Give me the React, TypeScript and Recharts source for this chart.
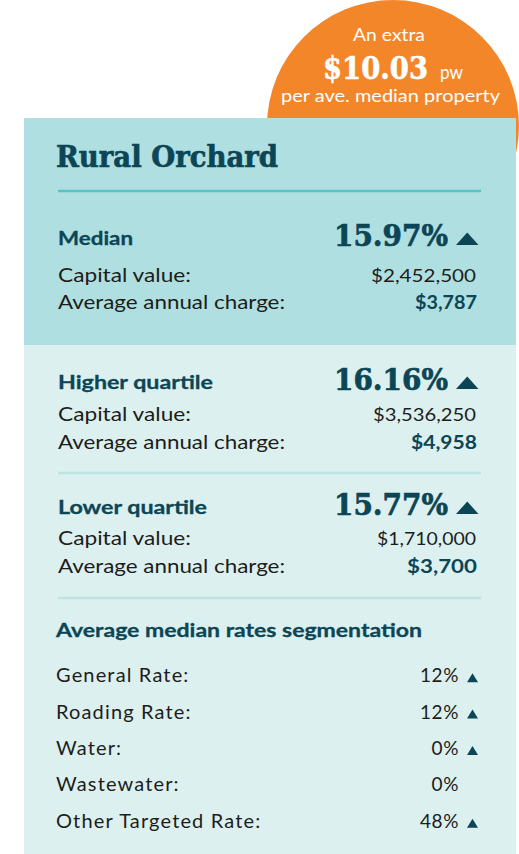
import React from 'react';
import { BarChart, Bar, XAxis, YAxis, Customized } from 'recharts';

// ---- data ----
const cardTitle = 'Rural Orchard';
const bubbleLines = ['An extra', '$10.03', 'pw', 'per ave. median property'];
const sectionTitles = ['Median', 'Higher quartile', 'Lower quartile'];
const sectionChanges = ['15.97%', '16.16%', '15.77%'];
const capitalValues = ['$2,452,500', '$3,536,250', '$1,710,000'];
const annualCharges = ['$3,787', '$4,958', '$3,700'];
const rowLabels = ['Capital value:', 'Average annual charge:'];
const segTitle = 'Average median rates segmentation';
const segNames = ['General Rate:', 'Roading Rate:', 'Water:', 'Wastewater:', 'Other Targeted Rate:'];
const segValues = [12, 12, 0, 0, 48];
const segUp = [true, true, true, false, true];

const segData = segNames.map((name, i) => ({ name, value: segValues[i] }));

// ---- styles ----
const TEAL = '#0c4656';
const INK = '#1d1d1b';
const SANS = 'Lato, "Open Sans", sans-serif';
const SERIF = '"DejaVu Serif", serif';

const LeftTick = (props: any) => {
  const { y, payload } = props;
  return (
    <text x={56} y={y + 7} fontFamily={SANS} fontSize={20} letterSpacing={1.15} fill={INK} textAnchor="start">
      {payload.value}
    </text>
  );
};

const RightTick = (props: any) => {
  const { y, index } = props;
  const v = segValues[index];
  const up = segUp[index];
  const base = y + 7;
  return (
    <g>
      <text x={459} y={base} fontFamily={SANS} fontSize={19} letterSpacing={0.6} fill={INK} textAnchor="end">
        {`${v}%`}
      </text>
      {up && <polygon points={`467,${base} 478,${base} 472.5,${base - 9}`} fill={TEAL} />}
    </g>
  );
};

const sectionY = [
  { title: 245, cap: 282, charge: 309 },
  { title: 389, cap: 421, charge: 449 },
  { title: 514, cap: 545, charge: 573 },
];
const titleWidths = [75, 155, 149];
const capWidths = [105, 103, 99];
const chargeWidths = [62, 66, 70];

const Overlay = () => (
  <g>
    {/* bubble text */}
    <text x={389} y={41} fontFamily={SANS} fontSize={18} fill="#fff" textAnchor="middle" textLength={72} lengthAdjust="spacingAndGlyphs">
      {bubbleLines[0]}
    </text>
    <text x={323} y={79} fontFamily={SERIF} fontWeight={700} fontSize={31} fill="#fff" stroke="#fff" strokeWidth={0.6} textLength={105} lengthAdjust="spacingAndGlyphs">
      {bubbleLines[1]}
    </text>
    <text x={440} y={79} fontFamily={SANS} fontSize={19} fill="#fff" textLength={23} lengthAdjust="spacingAndGlyphs">
      {bubbleLines[2]}
    </text>
    <text x={281} y={102} fontFamily={SANS} fontSize={18} fill="#fff" textLength={219} lengthAdjust="spacingAndGlyphs">
      {bubbleLines[3]}
    </text>

    {/* title */}
    <text x={56} y={167} fontFamily={SERIF} fontWeight={700} fontSize={30} fill={TEAL} stroke={TEAL} strokeWidth={0.7} textLength={222} lengthAdjust="spacingAndGlyphs">
      {cardTitle}
    </text>
    <line x1={58} x2={481} y1={191} y2={191} stroke="#55c4c7" strokeWidth={2.5} />

    {sectionTitles.map((t, i) => {
      const p = sectionY[i];
      return (
        <g key={t}>
          <text x={58} y={p.title} fontFamily={SANS} fontWeight={700} fontSize={19} fill={TEAL} stroke={TEAL} strokeWidth={0.3} textLength={titleWidths[i]} lengthAdjust="spacingAndGlyphs">
            {t}
          </text>
          <text x={334} y={p.title + 1} fontFamily={SERIF} fontWeight={700} fontSize={30} fill={TEAL} stroke={TEAL} strokeWidth={0.7} textLength={114} lengthAdjust="spacingAndGlyphs">
            {sectionChanges[i]}
          </text>
          <polygon points={`456,${p.title} 478.5,${p.title} 467.25,${p.title - 12.5}`} fill={TEAL} />
          <text x={58} y={p.cap} fontFamily={SANS} fontSize={20} fill={INK} textLength={133} lengthAdjust="spacingAndGlyphs">
            {rowLabels[0]}
          </text>
          <text x={58} y={p.charge} fontFamily={SANS} fontSize={20} fill={INK} textLength={227} lengthAdjust="spacingAndGlyphs">
            {rowLabels[1]}
          </text>
          <text x={476} y={p.cap} fontFamily={SANS} fontSize={18} fill={INK} textAnchor="end" textLength={capWidths[i]} lengthAdjust="spacingAndGlyphs">
            {capitalValues[i]}
          </text>
          <text x={477} y={p.charge} fontFamily={SANS} fontWeight={700} fontSize={18} fill={TEAL} textAnchor="end" textLength={chargeWidths[i]} lengthAdjust="spacingAndGlyphs">
            {annualCharges[i]}
          </text>
        </g>
      );
    })}
    <line x1={58} x2={481} y1={473} y2={473} stroke="#bde3e3" strokeWidth={2.5} />
    <line x1={58} x2={481} y1={598} y2={598} stroke="#bde3e3" strokeWidth={2.5} />

    <text x={56} y={637} fontFamily={SANS} fontWeight={700} fontSize={19} fill={TEAL} stroke={TEAL} strokeWidth={0.3} textLength={366} lengthAdjust="spacingAndGlyphs">
      {segTitle}
    </text>
  </g>
);

export default function App() {
  return (
    <div style={{ position: 'absolute', left: 0, top: 0, width: 519, height: 854, overflow: 'hidden', background: '#fff' }}>
      <div style={{ position: 'absolute', left: 267, top: 0, width: 252, height: 252, borderRadius: '50%', background: '#f4862a' }} />
      <div style={{ position: 'absolute', left: 24, top: 118, width: 492, height: 736, background: '#dcf0ef' }}>
        <div style={{ width: '100%', height: 227, background: '#afdfe0' }} />
      </div>
      <div style={{ position: 'absolute', left: 0, top: 0 }}>
        <BarChart
          width={519}
          height={854}
          data={segData}
          layout="vertical"
          margin={{ top: 657, bottom: 15, left: 0, right: 0 }}
        >
          <XAxis type="number" domain={[0, 100]} hide />
          <YAxis yAxisId="l" type="category" dataKey="name" width={56} axisLine={false} tickLine={false} tick={<LeftTick />} interval={0} />
          <YAxis yAxisId="r" orientation="right" type="category" dataKey="name" width={60} axisLine={false} tickLine={false} tick={<RightTick />} interval={0} />
          <Bar yAxisId="l" dataKey="value" fill="transparent" isAnimationActive={false} />
          <Customized component={Overlay} />
        </BarChart>
      </div>
    </div>
  );
}
